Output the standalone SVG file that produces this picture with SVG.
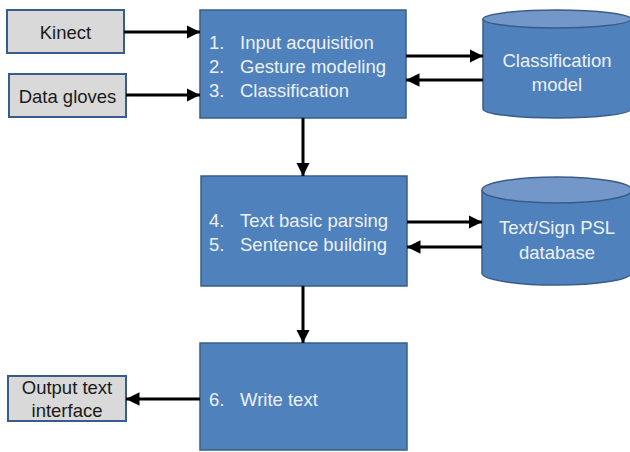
<svg xmlns="http://www.w3.org/2000/svg" width="630" height="452" viewBox="0 0 630 452">
<defs>
<marker id="ah" viewBox="0 0 10 10" refX="10" refY="5" markerWidth="4.5" markerHeight="4.5" orient="auto" markerUnits="strokeWidth">
<path d="M0,0 L10,5 L0,10 z" fill="#000"/>
</marker>
<style>
.gray{fill:#D9D9D9;stroke:#385D8A;stroke-width:2}
.blue{fill:#4F81BD;stroke:#385D8A;stroke-width:1.5}
.top{fill:#7397C8;stroke:#385D8A;stroke-width:1.5}
.dk{font-family:"Liberation Sans",Arial,sans-serif;font-size:18.5px;fill:#1a1a1a;text-anchor:middle}
.lt{font-family:"Liberation Sans",Arial,sans-serif;font-size:18.5px;fill:#EDF1F7}
.ltc{font-family:"Liberation Sans",Arial,sans-serif;font-size:18.5px;fill:#EDF1F7;text-anchor:middle}
.con{stroke:#000;stroke-width:3;fill:none;marker-end:url(#ah)}
</style>
</defs>
<rect width="630" height="452" fill="#fff"/>
<g id="kinect"><rect class="gray" x="7" y="10" width="117" height="43"/><text class="dk" x="65.5" y="38.5">Kinect</text></g>
<g id="gloves"><rect class="gray" x="9" y="74" width="117" height="43"/><text class="dk" x="67.5" y="102.5">Data gloves</text></g>
<g id="step1"><rect class="blue" x="200" y="10" width="206" height="108"/>
<text class="lt" x="209" y="48.5">1.</text><text class="lt" x="240" y="48.5">Input acquisition</text>
<text class="lt" x="209" y="72.5">2.</text><text class="lt" x="240" y="72.5">Gesture modeling</text>
<text class="lt" x="209" y="96.5">3.</text><text class="lt" x="240" y="96.5">Classification</text></g>
<g id="classmodel"><path class="blue" d="M483,19 L483,109 A74,9 0 0 0 631,109 L631,19"/><ellipse class="top" cx="557" cy="19" rx="74" ry="9"/>
<text class="ltc" x="557" y="66.5">Classification</text><text class="ltc" x="557" y="90.5">model</text></g>
<g id="step2"><rect class="blue" x="201" y="176" width="206" height="110"/>
<text class="lt" x="209" y="226.5">4.</text><text class="lt" x="240" y="226.5">Text basic parsing</text>
<text class="lt" x="209" y="250.5">5.</text><text class="lt" x="240" y="250.5">Sentence building</text></g>
<g id="psldb"><path class="blue" d="M482,190 L482,273 A74,12 0 0 0 631,273 L631,190"/><ellipse class="top" cx="557" cy="190" rx="75" ry="13"/>
<text class="ltc" x="557" y="233.5">Text/Sign PSL</text><text class="ltc" x="557" y="258.5">database</text></g>
<g id="step3"><rect class="blue" x="200" y="343" width="207" height="107"/>
<text class="lt" x="209" y="405.5">6.</text><text class="lt" x="240" y="405.5">Write text</text></g>
<g id="output"><rect class="gray" x="8" y="376" width="118" height="45"/><text class="dk" x="67" y="393.5">Output text</text><text class="dk" x="67" y="416.5">interface</text></g>
<g id="connectors">
<line class="con" x1="124" y1="32" x2="200" y2="32"/>
<line class="con" x1="126" y1="95" x2="200" y2="95"/>
<line class="con" x1="406" y1="56" x2="483" y2="56"/>
<line class="con" x1="483" y1="80" x2="406" y2="80"/>
<line class="con" x1="303" y1="118" x2="303" y2="176"/>
<line class="con" x1="407" y1="222" x2="482" y2="222"/>
<line class="con" x1="482" y1="247" x2="407" y2="247"/>
<line class="con" x1="303" y1="286" x2="303" y2="343"/>
<line class="con" x1="200" y1="399" x2="126" y2="399"/>
</g>
</svg>
